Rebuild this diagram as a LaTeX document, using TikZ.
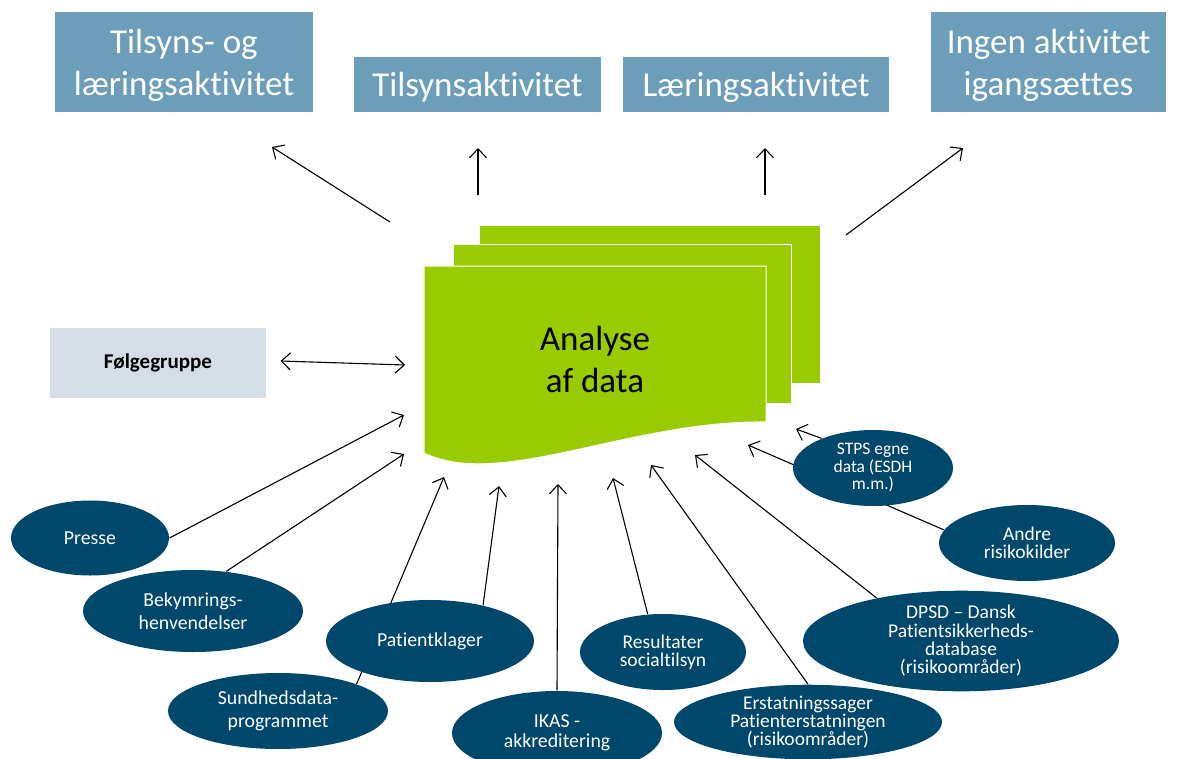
\documentclass[tikz,border=0pt]{standalone}
\usepackage{fontspec}
\setmainfont{Carlito}[Ligatures=NoCommon]
\usetikzlibrary{shapes.geometric,arrows.meta,backgrounds}
\definecolor{boxblue}{RGB}{108,158,186}
\definecolor{srcblue}{RGB}{0,71,108}
\definecolor{docgreen}{RGB}{153,204,0}
\definecolor{grpgray}{RGB}{213,222,230}
\tikzset{
  outcome/.style={fill=boxblue, text=white, align=center, inner sep=0pt, font=\fontsize{35}{41.5}\selectfont},
  oneline/.style={outcome, minimum height=55, text height=30.5pt},
  twoline/.style={outcome, minimum height=100, text height=72.5pt},
  source/.style={ellipse, fill=srcblue, text=white, align=center, inner sep=0pt, font=\fontsize{19.8}{22.5}\selectfont},
  tight/.style={font=\fontsize{19.5}{18.3}\selectfont},
  page/.style={fill=docgreen, draw=white, line width=1pt},
  link/.style={->, line width=1.1pt},
}
\begin{document}
\begin{tikzpicture}[x=1pt, y=-1pt, >={Straight Barb[length=9pt,width=17pt]}, line width=1.1pt]
\useasboundingbox (0,0) rectangle (1181,758);

% what comes out of the analysis
\node[twoline, minimum width=258] (both) at (184,62) {Tilsyns- og\\læringsaktivitet};
\node[oneline, minimum width=247] (tilsyn) at (477.5,84.5) {Tilsynsaktivitet};
\node[oneline, minimum width=266] (laering) at (756,84.5) {Læringsaktivitet};
\node[twoline, minimum width=235] (ingen) at (1048.5,62) {Ingen aktivitet\\igangsættes};

\coordinate (o1) at (390,222); \coordinate (t1) at (272,147);
\coordinate (o2) at (478,195); \coordinate (t2) at (478,148);
\coordinate (o3) at (765,195); \coordinate (t3) at (765,148);
\coordinate (o4) at (846,235); \coordinate (t4) at (963,148);
\draw[link] (o1) -- (t1);
\draw[link] (o2) -- (t2);
\draw[link] (o3) -- (t3);
\draw[link] (o4) -- (t4);

% the stack of documents
\draw[page] (479,225) rectangle (820,383);
\draw[page] (453,244) rectangle (791,403);
\draw[page] (424,266) -- (766,266) -- (766,422) .. controls (630,420) and (500,490) .. (424,453) -- cycle;
\node[font=\fontsize{35}{42}\selectfont, align=center] (analyse) at (595,359.5) {Analyse\\af data};

\node[fill=grpgray, minimum width=216, minimum height=70, font=\bfseries\fontsize{21}{24}\selectfont] (grp) at (158,363) {Følgegruppe};
\coordinate (grpdoc) at (405,365);
\draw[<->] ([xshift=14,yshift=2]grp.east) -- (grpdoc);

% data sources
\node[source, minimum width=158, minimum height=75] (presse) at (90,538) {Presse};
\node[source, minimum width=220, minimum height=82] (bekym) at (193,611) {Bekymrings-\\henvendelser};
\node[source, minimum width=220, minimum height=76] (sundh) at (278,711) {Sundhedsdata-\\programmet};
\node[source, minimum width=208, minimum height=82] (klager) at (430,641) {Patientklager};
\node[source, minimum width=210, minimum height=84, font=\fontsize{19.8}{20}\selectfont] (ikas) at (557,733) {IKAS -\\akkreditering};
\node[source, tight, minimum width=166, minimum height=76] (social) at (663,652) {Resultater\\socialtilsyn};
\node[source, tight, minimum width=268, minimum height=74] (erstat) at (808,722) {Erstatningssager\\Patienterstatningen\\(risikoområder)};
\node[source, tight, minimum width=316, minimum height=100] (dpsd) at (961,641) {DPSD – Dansk\\Patientsikkerheds-\\database\\(risikoområder)};
\node[source, minimum width=176, minimum height=76, tight] (andre) at (1027,543) {Andre\\risikokilder};
\node[source, minimum width=160, minimum height=76, font=\fontsize{17.5}{17.5}\selectfont] (stps) at (873,468) {STPS egne\\data (ESDH\\m.m.)};

\coordinate (h1) at (404,415);
\coordinate (h2) at (404,454);
\coordinate (h3) at (444,477);
\coordinate (h4) at (499,486);
\coordinate (h5) at (558,484);
\coordinate (h6) at (613,478);
\coordinate (h7) at (651,465);
\coordinate (h8) at (695,455);
\coordinate (h9) at (748,445);
\coordinate (h10) at (796,429);

\begin{scope}[on background layer]
\draw[link] (presse.east) -- (h1);
\draw[link] (bekym.50) -- (h2);
\draw[link] (sundh.19) -- (h3);
\draw[link] (klager.34) -- (h4);
\draw[link] (ikas.north) -- (h5);
\draw[link] (social.112) -- (h6);
\draw[link] (erstat.north) -- (h7);
\draw[link] (dpsd.153) -- (h8);
\draw[link] (andre.171) -- (h9);
\draw[link] (stps.150) -- (h10);
\end{scope}

\end{tikzpicture}
\end{document}
